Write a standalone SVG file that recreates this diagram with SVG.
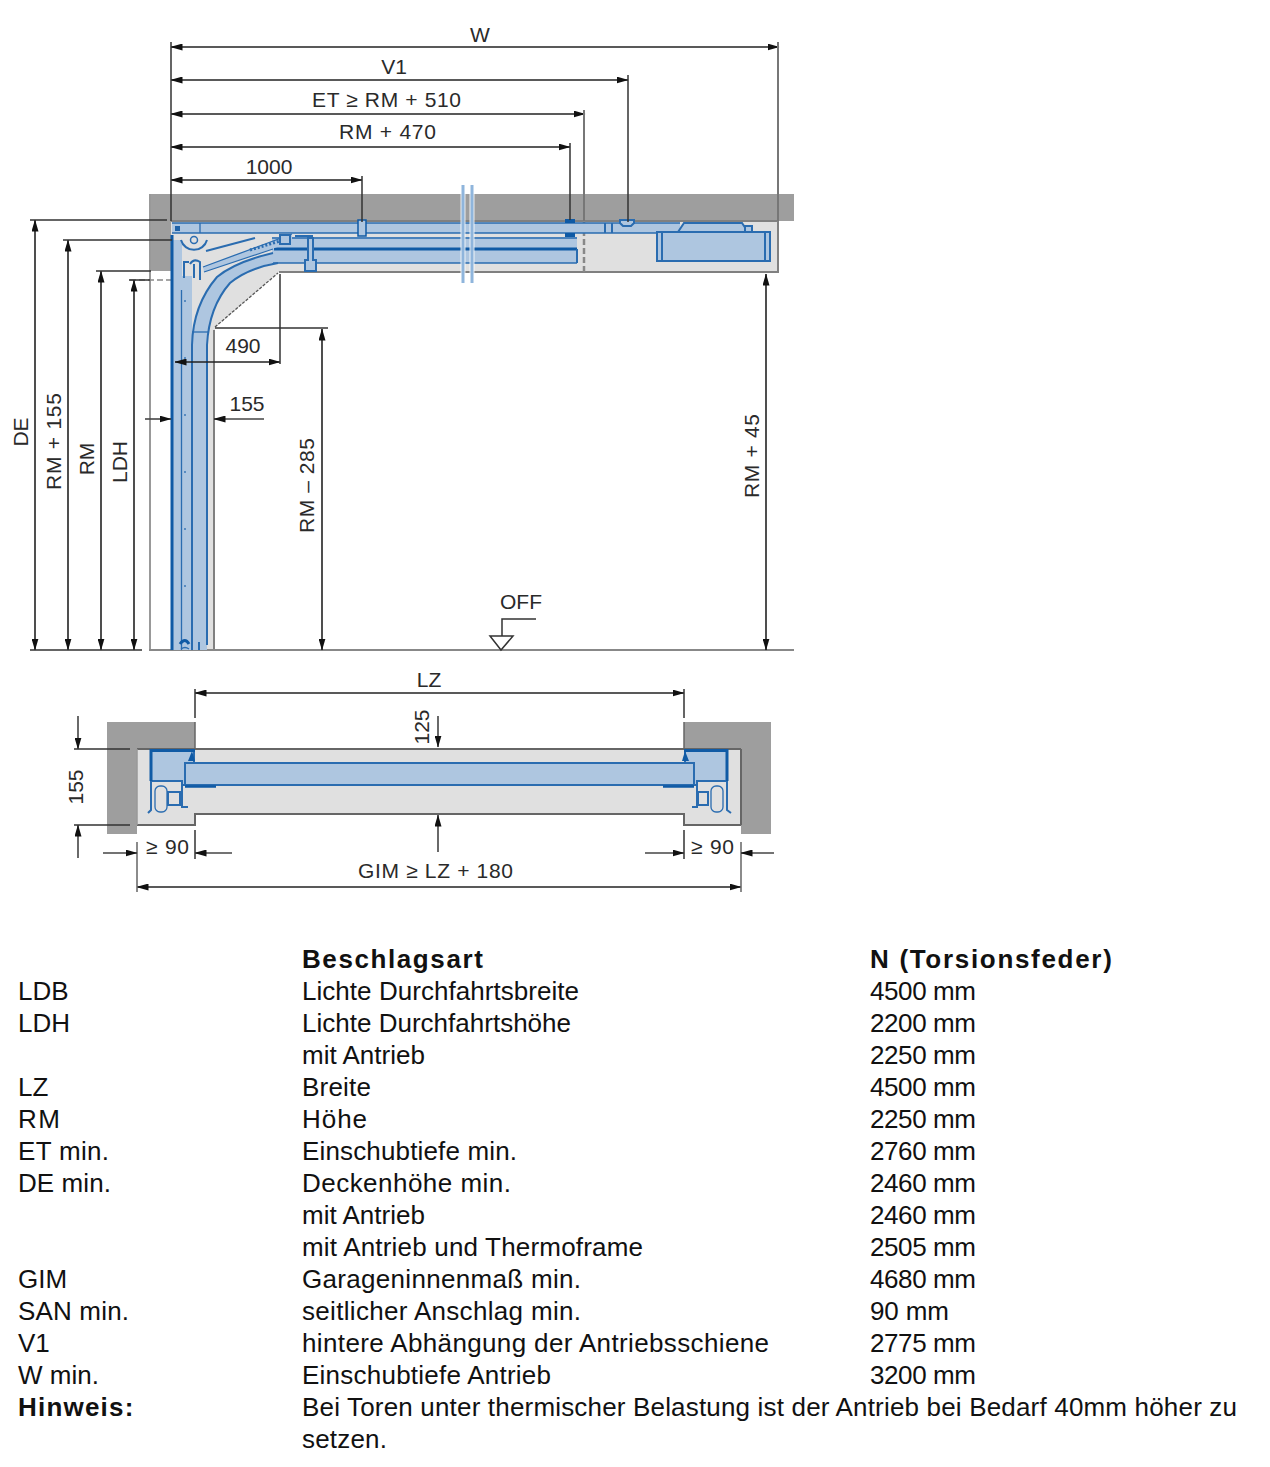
<svg xmlns="http://www.w3.org/2000/svg" width="1270" height="1467" viewBox="0 0 1270 1467">
<defs>
<marker id="a" viewBox="0 0 12 7" refX="11.5" refY="3.5" markerWidth="12" markerHeight="7" markerUnits="userSpaceOnUse" orient="auto-start-reverse"><path d="M0 0L12 3.5L0 7Z" fill="#111"/></marker>
</defs>
<style>
text{font-family:"Liberation Sans",Arial,sans-serif;fill:#111}
.d{font-size:21px;fill:#2a2a2a}
.t{font-size:26px}
.b{font-size:26px;font-weight:bold;letter-spacing:1.2px}
.dim{stroke:#222;stroke-width:1.6;fill:none;marker-start:url(#a);marker-end:url(#a)}
.dim1{stroke:#444;stroke-width:1.6;fill:none;marker-end:url(#a)}
.ln{stroke:#333;stroke-width:1.5;fill:none}
.g{stroke:#808080;stroke-width:2;fill:none}
.wall{fill:#9e9e9e}
.lg{fill:#e0e0e0}
.bl{fill:#aec6e0;stroke:#2a6cb0;stroke-width:2}
.nf{fill:#aec6e0}
.bk{fill:none;stroke:#2a6cb0;stroke-width:2}
.bt{fill:none;stroke:#2a6cb0;stroke-width:1.3}
.bd{fill:none;stroke:#0f5aa5;stroke-width:3}
</style>
<g id="section">
<rect class="wall" x="151" y="194" width="643" height="27"/>
<rect class="wall" x="151" y="221" width="20" height="50"/>
<path class="lg" d="M171 221H778V272H279L215 328V650H171Z"/>
<path class="g" d="M171 221H778V272H584M584 272H279M214 330V650"/>
<path d="M215 327L278 273" stroke="#555" stroke-width="1.3" stroke-dasharray="3 1.5" fill="none"/>
<path d="M584 221V272" stroke="#888" stroke-width="2.5" stroke-dasharray="6 3"/>
<path d="M150 194V650" stroke="#999" stroke-width="2" fill="none"/>
<path d="M149 650H794" stroke="#888" stroke-width="2"/>
<path d="M130 280H172" stroke="#888" stroke-width="1.5" stroke-dasharray="6 3"/>
<path class="nf" d="M172 223H680V233H172Z"/>
<path class="bt" d="M172 223H680M172 233H680M200 223V233"/>
<path class="nf" d="M272 237H577V263H272Z"/>
<path class="bt" d="M272 238H577M272 263H577"/>
<path d="M274 249H577" stroke="#0f5aa5" stroke-width="3"/>
<path class="bk" d="M577 249V263"/>
<path class="nf" d="M172 240H182V650H172Z"/>
<path class="nf" d="M182 276H192V650H182Z"/>
<path class="nf" d="M192 650V345Q193 305 217 277Q235 262 273 253V263Q248 268 230 283Q209 307 207 345V650Z"/>
<path class="bk" d="M192 345Q193 305 217 277Q235 262 273 253"/>
<path class="bk" d="M207 345Q209 307 230 283Q248 268 278 263"/>
<path class="bt" d="M192 332H208"/>
<path class="bd" d="M172 235V650"/>
<path class="bt" d="M181.500 290V650"/>
<path class="bk" d="M192 345V650"/>
<path class="bk" d="M207 345V645"/>
<path class="nf" d="M203 267L292 234V242L204 272Z"/>
<path class="bt" d="M203 267L292 234M204 272L273 249"/>
<path class="bk" d="M206 251L255 238" stroke-width="2.500"/>
<path d="M250 250L280 241" stroke="#2a6cb0" stroke-width="3" stroke-dasharray="2 2" fill="none"/>
<rect class="bl" x="280" y="235" width="10" height="9" stroke-width="1.300"/>
<circle cx="194" cy="240" r="3.500" fill="none" stroke="#2a6cb0" stroke-width="1.500"/>
<path class="bk" d="M181 240A13.500 13.500 0 0 0 207 240" stroke-width="2.500"/>
<path class="bk" d="M184 278V262H189M190 264Q194 258 200 262V280M194 264V278"/>
<path class="bk" d="M295 236H313"/>
<path class="bl" d="M308 238H313V260H316V271H305V260H308Z" stroke-width="1.500" fill="#c8d8ea"/>
<rect x="175" y="226" width="5" height="5" fill="#1f62a8"/>
<rect x="358" y="220" width="8" height="16" fill="#aec6e0" stroke="#0f5aa5" stroke-width="1.500"/>
<rect x="565" y="219" width="10" height="4" fill="#0f5aa5"/>
<rect x="565" y="233" width="10" height="4" fill="#0f5aa5"/>
<path class="bk" d="M605 223V233M612 223V233"/>
<path class="bl" d="M620 220H634V223L631 226H623L620 223Z" stroke-width="1.500"/>
<path class="bl" d="M678 232L684 223H742L748 232Z" stroke-width="1.500"/>
<path class="bl" d="M745 232V226H752V232Z" stroke-width="1.500"/>
<path class="bl" d="M657 232H770V261H757H657Z"/>
<path class="bk" d="M662 232V262M765 232V262"/>
<path d="M463 185V283M472 185V283" stroke="#fff" stroke-width="5" opacity=".8"/>
<path d="M463 185V283M472 185V283" stroke="#8fb5dc" stroke-width="3"/>
<path d="M180 644q5 -7 9 0" class="bd"/>
<path d="M181 649q4 -3 8 0" class="bt"/>
<path d="M199 642v8" class="bk"/>
<path class="bt" d="M185 300v300" stroke-dasharray="2 55"/>
</g>
<g id="plan">
<path class="wall" d="M107 722H195V749H137V834H107Z"/>
<path class="wall" d="M684 722H771V834H741V749H684Z"/>
<path class="lg" d="M137 749H741V825H684V814H195V825H137Z"/>
<path d="M137 749H741M137 825H195V814H684V825H741M741 749V825" stroke="#666" stroke-width="2" fill="none"/>
<path d="M137 749V825" stroke="#999" stroke-width="1.500"/>
<path d="M195 722V749M684 722V749" stroke="#666" stroke-width="1.500"/>
<path class="bl" d="M151 751H194V763H185V785H182V781H151Z" stroke="none"/>
<path class="bl" d="M685 751H727V781H697V785H694V763H685Z" stroke="none"/>
<path class="bd" d="M195 750.500H151V781M684 750.500H727V781" stroke-width="2.500"/>
<rect class="bl" x="185" y="763" width="509" height="22"/>
<path d="M185 786.500H216M694 786.500H663" stroke="#0f5aa5" stroke-width="2.500"/>
<path class="bk" d="M148 813L151 810V781M182 780V807H188M168 792H180V805H168ZM153 781H166" stroke-width="1.500"/>
<rect class="bt" x="155" y="786" width="12" height="26" rx="5"/>
<path class="bk" d="M731 813L727 810V781M697 780V807H692M698 792H708V805H698ZM712 781H726" stroke-width="1.500"/>
<rect class="bt" x="711" y="786" width="12" height="26" rx="5"/>
<path d="M192 751L195 761H188Z" fill="#0f5aa5"/>
<path d="M685 751L682 761H689Z" fill="#0f5aa5"/>
</g>
<g id="connectors">
<path class="dim" d="M171 47H779"/>
<path class="dim" d="M171 80H628"/>
<path class="dim" d="M171 114H585"/>
<path class="dim" d="M171 147H570"/>
<path class="dim" d="M171 180H362"/>
<path class="ln" d="M171 42V221M628 75V222M570 143V220M362 176V222"/>
<path d="M778 42V221M584 110V221" stroke="#777" stroke-width="2" fill="none"/>
<path class="dim" d="M35 220V650"/>
<path class="dim" d="M68 240V650"/>
<path class="dim" d="M101 271V650"/>
<path class="dim" d="M134 280V650"/>
<path class="ln" d="M30 220H167M63 240H172M96 271H151M129 280H150M30 650H142"/>
<path class="dim" d="M175 362H280"/>
<path class="ln" d="M280 274V364"/>
<path class="dim1" d="M145 419H171"/>
<path class="dim1" d="M264 419H214"/>
<path class="dim" d="M322 329V650"/>
<path class="ln" d="M215 328H328"/>
<path class="dim" d="M766 274V650"/>
<path class="dim" d="M195 693H684"/>
<path class="ln" d="M195 689V718M684 689V718"/>
<path class="dim1" d="M438 716V747"/>
<path class="dim1" d="M438 852V815"/>
<path class="dim" d="M137 887H741"/>
<path d="M137 842V892M741 842V892" stroke="#666" stroke-width="1.500" fill="none"/>
<path class="dim1" d="M103 853H137"/>
<path class="dim1" d="M232 853H195"/>
<path class="dim1" d="M645 853H684"/>
<path class="dim1" d="M774 853H741"/>
<path class="ln" d="M195 830V859M684 830V859"/>
<path class="dim1" d="M78 716V749"/>
<path class="dim1" d="M78 858V825"/>
<path class="ln" d="M74 749H130M74 825H130"/>
<path class="ln" d="M536 619H502V636M490 636H513L501 650Z"/>
</g>
<g id="labels">
<text class="d" x="480" y="42" text-anchor="middle">W</text>
<text class="d" x="394" y="74" text-anchor="middle">V1</text>
<text class="d" x="312" y="106.500" textLength="149">ET ≥ RM + 510</text>
<text class="d" x="339" y="138.500" textLength="97">RM + 470</text>
<text class="d" x="269" y="174" text-anchor="middle">1000</text>
<text class="d" x="243" y="353" text-anchor="middle">490</text>
<text class="d" x="247" y="411" text-anchor="middle">155</text>
<text class="d" x="521" y="609" text-anchor="middle">OFF</text>
<text class="d" x="429" y="687" text-anchor="middle">LZ</text>
<text class="d" x="358" y="877.500" textLength="155">GIM ≥ LZ + 180</text>
<text class="d" x="146" y="854" textLength="43">≥ 90</text>
<text class="d" x="691" y="854" textLength="43">≥ 90</text>
<text class="d" transform="translate(28 432) rotate(-90)" text-anchor="middle">DE</text>
<text class="d" transform="translate(61 490) rotate(-90)" textLength="97">RM + 155</text>
<text class="d" transform="translate(94 459) rotate(-90)" text-anchor="middle">RM</text>
<text class="d" transform="translate(127 462) rotate(-90)" text-anchor="middle">LDH</text>
<text class="d" transform="translate(314 533) rotate(-90)" textLength="95">RM – 285</text>
<text class="d" transform="translate(759 498) rotate(-90)" textLength="84">RM + 45</text>
<text class="d" transform="translate(429 727) rotate(-90)" text-anchor="middle">125</text>
<text class="d" transform="translate(83 787) rotate(-90)" text-anchor="middle">155</text>
</g>
<g id="table">
<text class="b" x="302" y="968" textLength="182">Beschlagsart</text><text class="b" x="870" y="968" textLength="243">N (Torsionsfeder)</text>
<text class="t" x="18" y="1000">LDB</text><text class="t" x="302" y="1000" textLength="277">Lichte Durchfahrtsbreite</text><text class="t" x="870" y="1000" textLength="106">4500 mm</text>
<text class="t" x="18" y="1032">LDH</text><text class="t" x="302" y="1032" textLength="269">Lichte Durchfahrtshöhe</text><text class="t" x="870" y="1032" textLength="106">2200 mm</text>
<text class="t" x="302" y="1064" textLength="123">mit Antrieb</text><text class="t" x="870" y="1064" textLength="106">2250 mm</text>
<text class="t" x="18" y="1096">LZ</text><text class="t" x="302" y="1096" textLength="69">Breite</text><text class="t" x="870" y="1096" textLength="106">4500 mm</text>
<text class="t" x="18" y="1128" textLength="42">RM</text><text class="t" x="302" y="1128" textLength="65">Höhe</text><text class="t" x="870" y="1128" textLength="106">2250 mm</text>
<text class="t" x="18" y="1160" textLength="91">ET min.</text><text class="t" x="302" y="1160" textLength="215">Einschubtiefe min.</text><text class="t" x="870" y="1160" textLength="106">2760 mm</text>
<text class="t" x="18" y="1192" textLength="93">DE min.</text><text class="t" x="302" y="1192" textLength="209">Deckenhöhe min.</text><text class="t" x="870" y="1192" textLength="106">2460 mm</text>
<text class="t" x="302" y="1224" textLength="123">mit Antrieb</text><text class="t" x="870" y="1224" textLength="106">2460 mm</text>
<text class="t" x="302" y="1256" textLength="341">mit Antrieb und Thermoframe</text><text class="t" x="870" y="1256" textLength="106">2505 mm</text>
<text class="t" x="18" y="1288">GIM</text><text class="t" x="302" y="1288" textLength="279">Garageninnenmaß min.</text><text class="t" x="870" y="1288" textLength="106">4680 mm</text>
<text class="t" x="18" y="1320" textLength="111">SAN min.</text><text class="t" x="302" y="1320" textLength="279">seitlicher Anschlag min.</text><text class="t" x="870" y="1320" textLength="79">90 mm</text>
<text class="t" x="18" y="1352">V1</text><text class="t" x="302" y="1352" textLength="467">hintere Abhängung der Antriebsschiene</text><text class="t" x="870" y="1352" textLength="106">2775 mm</text>
<text class="t" x="18" y="1384" textLength="81">W min.</text><text class="t" x="302" y="1384" textLength="249">Einschubtiefe Antrieb</text><text class="t" x="870" y="1384" textLength="106">3200 mm</text>
<text class="b" x="18" y="1416">Hinweis:</text><text class="t" x="302" y="1416" textLength="935">Bei Toren unter thermischer Belastung ist der Antrieb bei Bedarf 40mm höher zu</text>
<text class="t" x="302" y="1448" textLength="85">setzen.</text>
</g>
</svg>
